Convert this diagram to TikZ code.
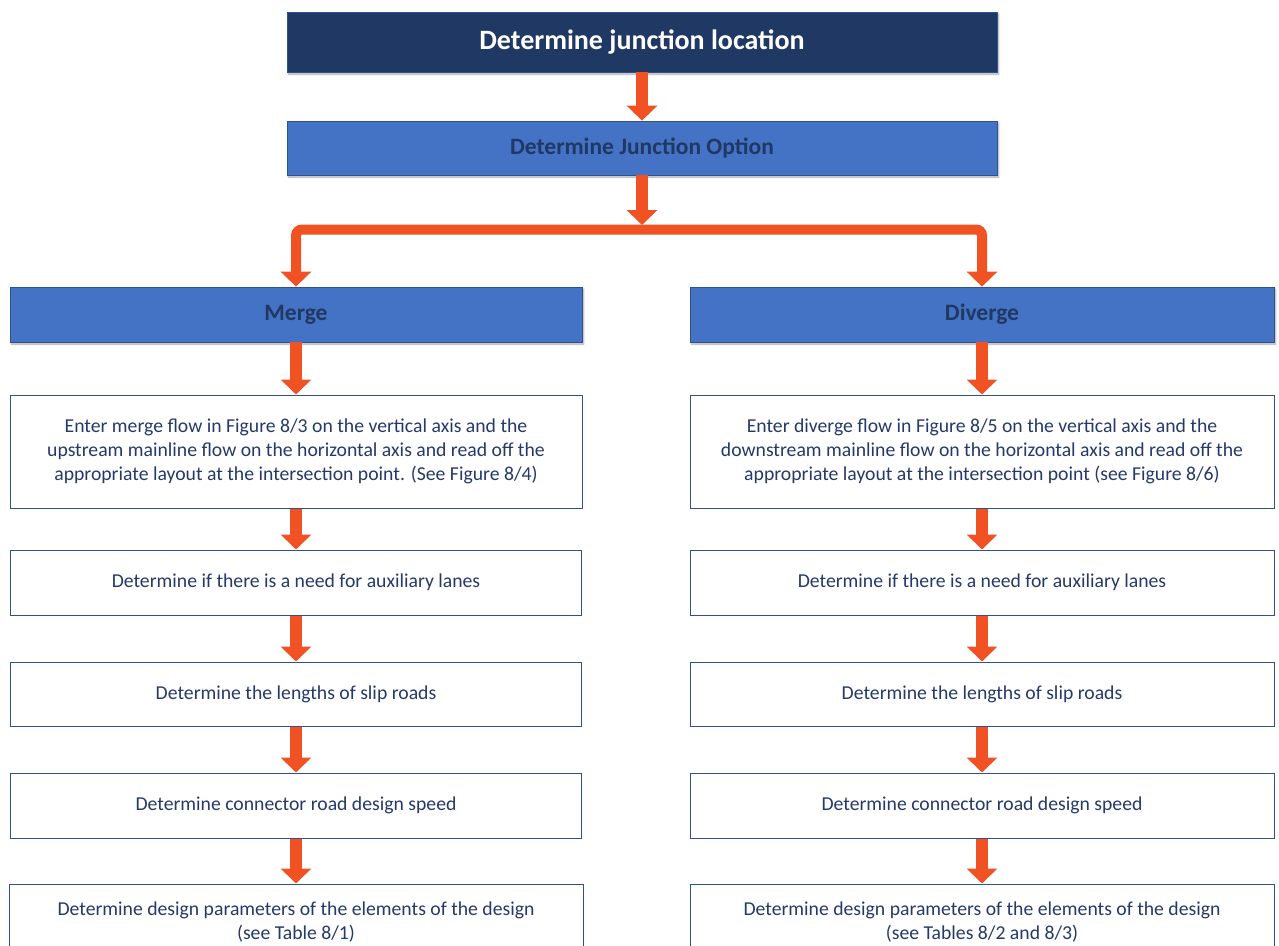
\documentclass[tikz,border=0pt]{standalone}
\usepackage{fontspec}
\setmainfont{Carlito}
\usetikzlibrary{arrows.meta,shadows.blur}
\definecolor{navy}{HTML}{203864}
\definecolor{midblue}{HTML}{4472C4}
\definecolor{edgeblue}{HTML}{2F528F}
\definecolor{flow}{HTML}{F05224}
\definecolor{txt}{HTML}{25396A}
\begin{document}
\begin{tikzpicture}[x=1pt,y=-1pt,
  softshadow/.style={blur shadow={shadow blur steps=6, shadow xshift=1.5pt, shadow yshift=-2pt, shadow opacity=35}},
  headbox/.style={draw=edgeblue, line width=0.8pt, fill=navy, text=white, inner sep=0pt,
    font=\bfseries\fontsize{28}{32}\selectfont, minimum width=710pt, minimum height=60pt, softshadow},
  bluebox/.style={draw=edgeblue, line width=0.8pt, fill=midblue, text=navy, inner sep=0pt,
    font=\bfseries\fontsize{23.5}{27}\selectfont, softshadow},
  stepbox/.style={draw=edgeblue, line width=1pt, fill=white, text=txt, inner sep=0pt, align=center,
    font=\fontsize{19.7}{23.7}\selectfont},
  flowarrow/.style={draw=flow, line width=12pt, -{Triangle[width=30pt,length=15pt]}},
  splitline/.style={draw=flow, line width=10pt, rounded corners=6pt,
    {Triangle[width=30pt,length=15pt]}-{Triangle[width=30pt,length=15pt]}}
]
\useasboundingbox (0,0) rectangle (1279,945);
\clip (0,0) rectangle (1279,945);

% top of the chart
\node[headbox] (top) at (642,42) {Determine junction location};
\node[bluebox, minimum width=710pt, minimum height=54pt] (opt) at (642,148) {Determine Junction Option};

% the two branches
\node[bluebox, minimum width=572pt, minimum height=55pt] (merge) at (296,314.5) {Merge};
\node[bluebox, minimum width=584pt, minimum height=55pt] (div) at (982,314.5) {Diverge};

% merge column
\node[stepbox, minimum width=572pt, minimum height=113pt] (l1) at (296,451.5)
  {Enter merge flow in Figure 8/3 on the vertical axis and the\\
   upstream mainline flow on the horizontal axis and read off the\\
   appropriate layout at the intersection point. (See Figure 8/4)};
\node[stepbox, minimum width=571pt, minimum height=65pt] (l2) at (296,582.5)
  {Determine if there is a need for auxiliary lanes};
\node[stepbox, minimum width=571pt, minimum height=64pt] (l3) at (296,694)
  {Determine the lengths of slip roads};
\node[stepbox, minimum width=571pt, minimum height=65pt] (l4) at (296,805.5)
  {Determine connector road design speed};
\node[stepbox, minimum width=574pt, minimum height=76pt] (l5) at (296,922)
  {Determine design parameters of the elements of the design\\(see Table 8/1)};

% diverge column
\node[stepbox, minimum width=584pt, minimum height=113pt] (r1) at (982,451.5)
  {Enter diverge flow in Figure 8/5 on the vertical axis and the\\
   downstream mainline flow on the horizontal axis and read off the\\
   appropriate layout at the intersection point (see Figure 8/6)};
\node[stepbox, minimum width=584pt, minimum height=65pt] (r2) at (982,582.5)
  {Determine if there is a need for auxiliary lanes};
\node[stepbox, minimum width=584pt, minimum height=64pt] (r3) at (982,694)
  {Determine the lengths of slip roads};
\node[stepbox, minimum width=584pt, minimum height=65pt] (r4) at (982,805.5)
  {Determine connector road design speed};
\node[stepbox, minimum width=584pt, minimum height=76pt] (r5) at (982,922)
  {Determine design parameters of the elements of the design\\(see Tables 8/2 and 8/3)};

% connectors
\coordinate (split) at (642,229.5);
\coordinate (splittop) at (642,225);
\draw[flowarrow] (top) -- (opt);
\draw[splitline] (merge.north) |- (split) -| (div.north);
\draw[flowarrow] (opt.south) -- (splittop);
\foreach \a/\b in {merge/l1,l1/l2,l2/l3,l3/l4,l4/l5,div/r1,r1/r2,r2/r3,r3/r4,r4/r5}
  \draw[flowarrow] (\a) -- (\b);
\end{tikzpicture}
\end{document}
